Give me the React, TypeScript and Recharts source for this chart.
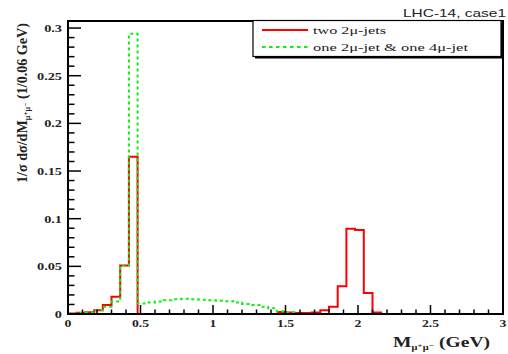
import React from "react";
import { LineChart, Line, XAxis, YAxis, ReferenceArea } from "recharts";

// 50 bins of 0.06 GeV between 0 and 3 GeV
const BIN_WIDTH = 0.06;
const X_MAX = 3;
const Y_MAX = 0.3074;

// two 2mu-jets (red); null where the histogram sits on the axis
const twoJets: (number | null)[] = [
  0.0005, 0.0012, 0.0018, 0.004, 0.0094, 0.018, 0.051, 0.165, 0, null,
  null, null, null, null, null, null, null, null, null, null,
  null, null, null, null, 0.002, 0.0015, 0.001, 0.001, 0.0015, 0.004,
  0.0077, 0.029, 0.0895, 0.088, 0.022, 0.0015, 0, null, null, null,
  null, null, null, null, null, null, null, null, null, null,
];

// one 2mu-jet & one 4mu-jet (green, dashed)
const oneEach: (number | null)[] = [
  0.0005, 0.001, 0.0015, 0.004, 0.0077, 0.013, 0.051, 0.294, 0.011, 0.012,
  0.013, 0.0145, 0.0155, 0.016, 0.0155, 0.015, 0.0145, 0.014, 0.0135, 0.012,
  0.0105, 0.0095, 0.0075, 0.006, 0.003, 0.0015, 0, null, null, null,
  null, null, null, null, null, null, null, null, null, null,
  null, null, null, null, null, null, null, null, null, null,
];

const xMajorTicks = [0, 0.5, 1, 1.5, 2, 2.5, 3];
const yMajorTicks = [0, 0.05, 0.1, 0.15, 0.2, 0.25, 0.3];
const xTickLabels = ["0", "0.5", "1", "1.5", "2", "2.5", "3"];
const yTickLabels = ["0", "0.05", "0.1", "0.15", "0.2", "0.25", "0.3"];

const RED = "#ff0000";
const GREEN = "#11ee11";
const SERIF = "'Liberation Serif', 'DejaVu Serif', serif";
const SANS = "'Liberation Sans', Arial, sans-serif";

// subdivide major ticks into minor ones
function withMinor(majors: number[], parts: number): number[] {
  const out: number[] = [];
  for (let i = 0; i < majors.length - 1; i++) {
    const step = (majors[i + 1] - majors[i]) / parts;
    for (let k = 0; k < parts; k++) out.push(+(majors[i] + k * step).toFixed(4));
  }
  out.push(majors[majors.length - 1]);
  return out;
}

const xTicks = withMinor(xMajorTicks, 5);
const yTicks = withMinor(yMajorTicks, 5);

// histogram as step points at the bin edges
const data = Array.from({ length: twoJets.length + 1 }, (_, i) => {
  const b = Math.min(i, twoJets.length - 1);
  return {
    m: Math.round(i * BIN_WIDTH * 100) / 100,
    two: twoJets[b],
    one: oneEach[b],
  };
});

function majorIndex(list: number[], v: number) {
  return list.findIndex((t) => Math.abs(t - v) < 1e-6);
}

function XTick({ x, y, payload }: any) {
  const idx = majorIndex(xMajorTicks, payload.value);
  const major = idx >= 0;
  return (
    <g>
      <line x1={x} x2={x} y1={y} y2={y - (major ? 9 : 4.5)} stroke="#000" strokeWidth={1.5} />
      {major && (
        <text
          transform={`translate(${x},${y + 13}) scale(1.25,1)`}
          textAnchor="middle"
          fontFamily={SERIF}
          fontWeight="bold"
          fontSize={11}
          fill="#222"
        >
          {xTickLabels[idx]}
        </text>
      )}
    </g>
  );
}

function YTick({ x, y, payload }: any) {
  const idx = majorIndex(yMajorTicks, payload.value);
  const major = idx >= 0;
  return (
    <g>
      <line x1={x} x2={x + (major ? 13 : 6.5)} y1={y} y2={y} stroke="#000" strokeWidth={1.5} />
      {major && (
        <text
          transform={`translate(${x - 6},${y + 4}) scale(1.3,1)`}
          textAnchor="end"
          fontFamily={SERIF}
          fontWeight="bold"
          fontSize={11}
          fill="#222"
        >
          {yTickLabels[idx]}
        </text>
      )}
    </g>
  );
}

function Overlay() {
  return (
    <svg
      width={508}
      height={354}
      style={{ position: "absolute", left: 0, top: 0, pointerEvents: "none" }}
    >
      <text x={403} y={17} fontFamily={SANS} fontSize={10.5} fill="#222" textLength={103} lengthAdjust="spacingAndGlyphs">
        LHC-14, case1
      </text>

      {/* legend box with shadow */}
      <rect x={255} y={22.5} width={248} height={36} fill="#000" />
      <rect x={253} y={20.5} width={248} height={36} fill="#fff" stroke="#000" strokeWidth={1.2} />
      <line x1={262} x2={308} y1={30} y2={30} stroke={RED} strokeWidth={2} />
      <line x1={262} x2={308} y1={47} y2={47} stroke={GREEN} strokeWidth={2} strokeDasharray="3.5 3.5" />
      <text x={313} y={33.5} fontFamily={SERIF} fontSize={11} fill="#222" textLength={73} lengthAdjust="spacingAndGlyphs">
        two 2μ-jets
      </text>
      <text x={313} y={50.5} fontFamily={SERIF} fontSize={11} fill="#222" textLength={155} lengthAdjust="spacingAndGlyphs">
        one 2μ-jet &amp; one 4μ-jet
      </text>

      {/* y title */}
      <text
        transform="translate(27,183) rotate(-90)"
        fontFamily={SERIF}
        fontWeight="bold"
        fontSize={14}
        fill="#222"
        textLength={160}
        lengthAdjust="spacingAndGlyphs"
      >
        1/σ dσ/dM
        <tspan fontSize={8} dy={3}>μ⁺μ⁻</tspan>
        <tspan dy={-3}> (1/0.06 GeV)</tspan>
      </text>

      {/* x title */}
      <text x={393} y={347} fontFamily={SERIF} fontWeight="bold" fontSize={15} fill="#222" textLength={97} lengthAdjust="spacingAndGlyphs">
        M
        <tspan fontSize={8} dy={3}>μ⁺μ⁻</tspan>
        <tspan dy={-3}> (GeV)</tspan>
      </text>
    </svg>
  );
}

export default function App() {
  return (
    <div style={{ position: "absolute", left: 0, top: 0, width: 508, height: 354, background: "#fff" }}>
      <LineChart
        width={508}
        height={354}
        data={data}
        margin={{ top: 21, right: 5, bottom: 0, left: 0 }}
      >
        <XAxis
          dataKey="m"
          type="number"
          domain={[0, X_MAX]}
          ticks={xTicks}
          interval={0}
          height={40}
          tickSize={0}
          tickMargin={0}
          tickLine={false}
          axisLine={{ stroke: "#000", strokeWidth: 2 }}
          tick={<XTick />}
          allowDataOverflow
        />
        <YAxis
          type="number"
          domain={[0, Y_MAX]}
          ticks={yTicks}
          interval={0}
          width={68}
          tickSize={0}
          tickMargin={0}
          tickLine={false}
          axisLine={{ stroke: "#000", strokeWidth: 2 }}
          tick={<YTick />}
          allowDataOverflow
        />
        <ReferenceArea
          x1={0}
          x2={X_MAX}
          y1={0}
          y2={Y_MAX}
          fill="none"
          fillOpacity={0}
          stroke="#000"
          strokeWidth={2}
          ifOverflow="visible"
        />
        <Line
          type="stepAfter"
          dataKey="two"
          stroke={RED}
          strokeWidth={2}
          dot={false}
          activeDot={false}
          isAnimationActive={false}
        />
        <Line
          type="stepAfter"
          dataKey="one"
          stroke={GREEN}
          strokeWidth={2}
          strokeDasharray="3 3"
          dot={false}
          activeDot={false}
          isAnimationActive={false}
        />
      </LineChart>
      <Overlay />
    </div>
  );
}
